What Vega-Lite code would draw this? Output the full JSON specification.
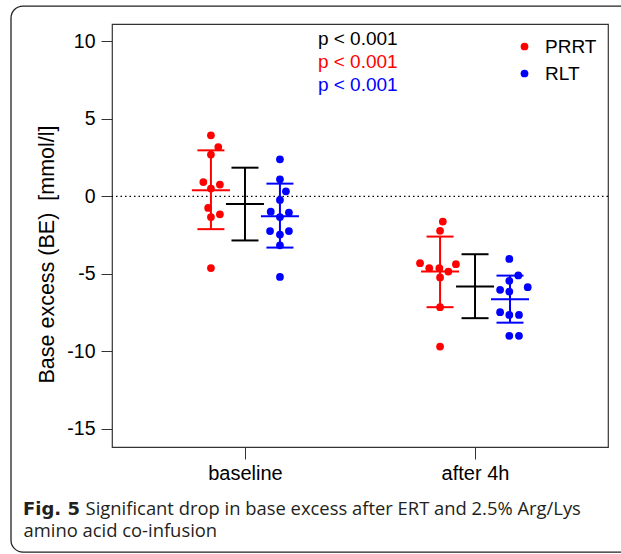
{
  "$schema": "https://vega.github.io/schema/vega-lite/v6.json",
  "width": 496,
  "height": 423,
  "autosize": {"type": "none"},
  "padding": {"left": 112, "top": 24, "right": 13, "bottom": 107},
  "background": "white",
  "config": {
    "view": {"stroke": "#333333", "strokeWidth": 1.2},
    "font": "Liberation Sans"
  },
  "title": {
    "text": "Fig. 5",
    "orient": "top",
    "anchor": "start",
    "frame": "group",
    "offset": 0,
    "dx": -89,
    "dy": 528,
    "baseline": "alphabetic",
    "font": "DejaVu Sans",
    "fontSize": 18,
    "fontWeight": "bold",
    "color": "#231f20"
  },
  "datasets": {
    "points": [
      {"t": "baseline", "g": "PRRT", "x": 0.852, "be": 3.94},
      {"t": "baseline", "g": "PRRT", "x": 0.884, "be": 3.18},
      {"t": "baseline", "g": "PRRT", "x": 0.852, "be": 2.70},
      {"t": "baseline", "g": "PRRT", "x": 0.819, "be": 0.92},
      {"t": "baseline", "g": "PRRT", "x": 0.891, "be": 0.76},
      {"t": "baseline", "g": "PRRT", "x": 0.852, "be": 0.50},
      {"t": "baseline", "g": "PRRT", "x": 0.840, "be": -0.75},
      {"t": "baseline", "g": "PRRT", "x": 0.852, "be": -1.34},
      {"t": "baseline", "g": "PRRT", "x": 0.891, "be": -1.16},
      {"t": "baseline", "g": "PRRT", "x": 0.852, "be": -4.63},
      {"t": "baseline", "g": "RLT", "x": 1.152, "be": 2.39},
      {"t": "baseline", "g": "RLT", "x": 1.152, "be": 1.10},
      {"t": "baseline", "g": "RLT", "x": 1.178, "be": 0.32},
      {"t": "baseline", "g": "RLT", "x": 1.152, "be": -0.23},
      {"t": "baseline", "g": "RLT", "x": 1.112, "be": -0.99},
      {"t": "baseline", "g": "RLT", "x": 1.191, "be": -1.05},
      {"t": "baseline", "g": "RLT", "x": 1.152, "be": -1.34},
      {"t": "baseline", "g": "RLT", "x": 1.109, "be": -2.24},
      {"t": "baseline", "g": "RLT", "x": 1.191, "be": -2.24},
      {"t": "baseline", "g": "RLT", "x": 1.152, "be": -2.47},
      {"t": "baseline", "g": "RLT", "x": 1.152, "be": -3.16},
      {"t": "baseline", "g": "RLT", "x": 1.152, "be": -5.21},
      {"t": "after 4h", "g": "PRRT", "x": 1.860, "be": -1.63},
      {"t": "after 4h", "g": "PRRT", "x": 1.848, "be": -2.23},
      {"t": "after 4h", "g": "PRRT", "x": 1.761, "be": -4.32},
      {"t": "after 4h", "g": "PRRT", "x": 1.801, "be": -4.64},
      {"t": "after 4h", "g": "PRRT", "x": 1.845, "be": -4.64},
      {"t": "after 4h", "g": "PRRT", "x": 1.884, "be": -4.86},
      {"t": "after 4h", "g": "PRRT", "x": 1.917, "be": -4.38},
      {"t": "after 4h", "g": "PRRT", "x": 1.848, "be": -5.24},
      {"t": "after 4h", "g": "PRRT", "x": 1.848, "be": -7.16},
      {"t": "after 4h", "g": "PRRT", "x": 1.848, "be": -9.70},
      {"t": "after 4h", "g": "RLT", "x": 2.149, "be": -4.04},
      {"t": "after 4h", "g": "RLT", "x": 2.188, "be": -5.11},
      {"t": "after 4h", "g": "RLT", "x": 2.149, "be": -5.46},
      {"t": "after 4h", "g": "RLT", "x": 2.109, "be": -6.04},
      {"t": "after 4h", "g": "RLT", "x": 2.149, "be": -6.15},
      {"t": "after 4h", "g": "RLT", "x": 2.229, "be": -5.87},
      {"t": "after 4h", "g": "RLT", "x": 2.109, "be": -7.48},
      {"t": "after 4h", "g": "RLT", "x": 2.149, "be": -7.66},
      {"t": "after 4h", "g": "RLT", "x": 2.191, "be": -7.66},
      {"t": "after 4h", "g": "RLT", "x": 2.149, "be": -9.01},
      {"t": "after 4h", "g": "RLT", "x": 2.191, "be": -9.01}
    ],
    "summary": [
      {"t": "baseline", "g": "PRRT", "x": 0.852, "mean": 0.39, "lo": -2.12, "hi": 2.97},
      {"t": "baseline", "g": "all", "x": 1.0, "mean": -0.50, "lo": -2.85, "hi": 1.85},
      {"t": "baseline", "g": "RLT", "x": 1.152, "mean": -1.29, "lo": -3.31, "hi": 0.82},
      {"t": "after 4h", "g": "PRRT", "x": 1.848, "mean": -4.86, "lo": -7.16, "hi": -2.60},
      {"t": "after 4h", "g": "all", "x": 2.0, "mean": -5.82, "lo": -7.87, "hi": -3.74},
      {"t": "after 4h", "g": "RLT", "x": 2.152, "mean": -6.64, "lo": -8.16, "hi": -5.12}
    ],
    "one": [{}]
  },
  "layer": [
    {
      "data": {"name": "one"},
      "mark": {"type": "rect", "fill": "transparent", "stroke": "#222222", "strokeWidth": 1.3, "cornerRadius": 12, "clip": false},
      "encoding": {
        "x": {"datum": -0.017, "type": "quantitative", "scale": {"domain": [0.422, 2.578], "nice": false, "zero": false}},
        "x2": {"datum": 2.75},
        "y": {"datum": 12.29, "type": "quantitative", "scale": {"domain": [-16.19, 11.13], "nice": false, "zero": false}},
        "y2": {"datum": -22.98}
      }
    },
    {
      "data": {"name": "one"},
      "mark": {"type": "rule", "color": "black", "strokeDash": [1.5, 3], "strokeWidth": 1.2},
      "encoding": {"y": {"datum": 0, "type": "quantitative"}}
    },
    {
      "data": {"name": "summary"},
      "mark": {"type": "rule", "strokeWidth": 2},
      "encoding": {
        "x": {"field": "x", "type": "quantitative"},
        "y": {"field": "lo", "type": "quantitative"},
        "y2": {"field": "hi"},
        "stroke": {"field": "g", "type": "nominal", "scale": {"domain": ["PRRT", "RLT", "all"], "range": ["#ff0000", "#0000ff", "#000000"]}, "legend": null}
      }
    },
    {
      "data": {"name": "summary"},
      "mark": {"type": "tick", "orient": "horizontal", "size": 27, "thickness": 2, "opacity": 1},
      "encoding": {
        "x": {"field": "x", "type": "quantitative"},
        "y": {"field": "lo", "type": "quantitative"},
        "fill": {"field": "g", "type": "nominal", "scale": {"domain": ["PRRT", "RLT", "all"], "range": ["#ff0000", "#0000ff", "#000000"]}, "legend": null}
      }
    },
    {
      "data": {"name": "summary"},
      "mark": {"type": "tick", "orient": "horizontal", "size": 27, "thickness": 2, "opacity": 1},
      "encoding": {
        "x": {"field": "x", "type": "quantitative"},
        "y": {"field": "hi", "type": "quantitative"},
        "fill": {"field": "g", "type": "nominal", "legend": null}
      }
    },
    {
      "data": {"name": "summary"},
      "mark": {"type": "tick", "orient": "horizontal", "size": 38, "thickness": 2, "opacity": 1},
      "encoding": {
        "x": {"field": "x", "type": "quantitative"},
        "y": {"field": "mean", "type": "quantitative"},
        "fill": {"field": "g", "type": "nominal", "legend": null}
      }
    },
    {
      "data": {"name": "points"},
      "mark": {"type": "circle", "size": 60, "opacity": 1},
      "encoding": {
        "x": {
          "field": "x",
          "type": "quantitative",
          "scale": {"domain": [0.422, 2.578], "nice": false, "zero": false},
          "axis": {
            "values": [1, 2],
            "labelExpr": "datum.value == 1 ? 'baseline' : 'after 4h'",
            "grid": false,
            "domain": false,
            "tickSize": 12,
            "tickColor": "#333333",
            "labelFontSize": 20,
            "labelPadding": 4,
            "labelColor": "black",
            "labelFont": "Liberation Sans",
            "title": ["\u200b\u00a0\u00a0\u00a0\u00a0\u00a0\u00a0\u00a0\u00a0\u00a0\u00a0\u00a0\u00a0\u00a0Significant drop in base excess after ERT and 2.5% Arg/Lys", "amino acid co-infusion"],
            "titleFont": "Open Sans",
            "titleFontSize": 18.4,
            "titleFontWeight": "normal",
            "titleColor": "#231f20",
            "titleX": -89,
            "titleY": 67,
            "titleAlign": "left",
            "titleBaseline": "alphabetic",
            "titleLineHeight": 22
          }
        },
        "y": {
          "field": "be",
          "type": "quantitative",
          "scale": {"domain": [-16.19, 11.13], "nice": false, "zero": false},
          "axis": {
            "values": [-15, -10, -5, 0, 5, 10],
            "labelExpr": "'' + datum.value",
            "grid": false,
            "domain": false,
            "tickSize": 11,
            "tickColor": "#333333",
            "labelFontSize": 19.5,
            "labelPadding": 6,
            "labelColor": "black",
            "labelFont": "Liberation Sans",
            "title": "Base excess (BE) \u00a0[mmol/l]",
            "titleFont": "Liberation Sans",
            "titleFontSize": 21.5,
            "titleFontWeight": "normal",
            "titleColor": "black",
            "titlePadding": 8,
            "titleY": 230
          }
        },
        "color": {
          "field": "g",
          "type": "nominal",
          "scale": {"domain": ["PRRT", "RLT"], "range": ["#ff0000", "#0000ff"]},
          "legend": {
            "title": null,
            "orient": "none",
            "legendX": 403,
            "legendY": 13,
            "padding": 0,
            "symbolType": "circle",
            "symbolSize": 60,
            "symbolStrokeWidth": 0,
            "labelFontSize": 19,
            "labelFont": "Liberation Sans",
            "labelColor": "black",
            "labelOffset": 11,
            "rowPadding": 7
          }
        }
      }
    },
    {
      "data": {"name": "one"},
      "mark": {"type": "text", "align": "left", "baseline": "alphabetic", "fontSize": 19, "font": "Liberation Sans", "color": "black", "text": "p < 0.001"},
      "encoding": {"x": {"datum": 1.317, "type": "quantitative"}, "y": {"datum": 9.77, "type": "quantitative"}}
    },
    {
      "data": {"name": "one"},
      "mark": {"type": "text", "align": "left", "baseline": "alphabetic", "fontSize": 19, "font": "Liberation Sans", "color": "#ff0000", "text": "p < 0.001"},
      "encoding": {"x": {"datum": 1.317, "type": "quantitative"}, "y": {"datum": 8.29, "type": "quantitative"}}
    },
    {
      "data": {"name": "one"},
      "mark": {"type": "text", "align": "left", "baseline": "alphabetic", "fontSize": 19, "font": "Liberation Sans", "color": "#0000ff", "text": "p < 0.001"},
      "encoding": {"x": {"datum": 1.317, "type": "quantitative"}, "y": {"datum": 6.80, "type": "quantitative"}}
    }
  ]
}
